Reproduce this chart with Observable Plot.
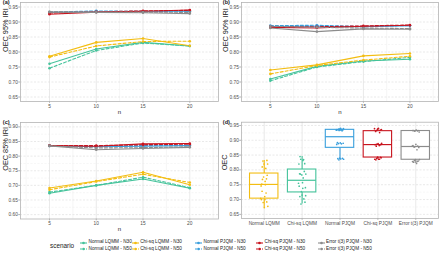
<!DOCTYPE html>
<html><head><meta charset="utf-8">
<script src="https://cdn.jsdelivr.net/npm/d3@7"></script>
<script src="https://cdn.jsdelivr.net/npm/@observablehq/plot@0.6"></script>
<style>
html,body{margin:0;padding:0;background:#fff;}
#root{position:relative;width:440px;height:254px;overflow:hidden;font-family:"Liberation Sans",Arial,sans-serif;background:#fff;}
#root svg{position:absolute;}
.leg{position:absolute;white-space:nowrap;line-height:1;color:#1a1a1a;}
</style></head><body><div id="root"></div>
<script>
// ---------- data ----------
const nValues = [5, 10, 15, 20];
const scenarios = ["Normal LQMM", "Chi-sq LQMM", "Normal PJQM", "Chi-sq PJQM", "Error t(3) PJQM"];
const sampleSizes = ["N30", "N50"];
const scenarioColors = ["#45C39B", "#F3BD12", "#3A9FDC", "#C8141E", "#8C8C8C"];
const boxColors = ["#F3BD12", "#45C39B", "#3A9FDC", "#C8141E", "#8C8C8C"];
const yTicksAB = [0.65, 0.70, 0.75, 0.80, 0.85, 0.90, 0.95];
const yTicksC = [0.60, 0.65, 0.70, 0.75, 0.80, 0.85, 0.90];
const panelTitles = ["OEC 95% IRI", "OEC 90% IRI", "OEC 85% IRI", "OEC"];
const panelTags = ["(a)", "(b)", "(c)", "(d)"];

// Panel (a): OEC 95% IRI
const a_normLQMM_N30 = [0.761, 0.810, 0.832, 0.820];
const a_normLQMM_N50 = [0.746, 0.805, 0.830, 0.820];
const a_chiLQMM_N30  = [0.786, 0.832, 0.845, 0.821];
const a_chiLQMM_N50  = [0.783, 0.820, 0.835, 0.836];
const a_normPJQM_N30 = [0.932, 0.934, 0.936, 0.936];
const a_normPJQM_N50 = [0.933, 0.937, 0.935, 0.936];
const a_chiPJQM_N30  = [0.926, 0.933, 0.936, 0.940];
const a_chiPJQM_N50  = [0.930, 0.934, 0.937, 0.939];
const a_errPJQM_N30  = [0.933, 0.932, 0.931, 0.928];
const a_errPJQM_N50  = [0.934, 0.933, 0.933, 0.932];

// Panel (b): OEC 90% IRI
const b_normLQMM_N30 = [0.710, 0.752, 0.770, 0.776];
const b_normLQMM_N50 = [0.704, 0.750, 0.768, 0.782];
const b_chiLQMM_N30  = [0.740, 0.757, 0.787, 0.795];
const b_chiLQMM_N50  = [0.727, 0.755, 0.773, 0.786];
const b_normPJQM_N30 = [0.885, 0.886, 0.884, 0.888];
const b_normPJQM_N50 = [0.888, 0.889, 0.885, 0.888];
const b_chiPJQM_N30  = [0.882, 0.880, 0.886, 0.889];
const b_chiPJQM_N50  = [0.885, 0.884, 0.887, 0.890];
const b_errPJQM_N30  = [0.880, 0.868, 0.877, 0.876];
const b_errPJQM_N50  = [0.886, 0.882, 0.880, 0.878];

// Panel (c): OEC 85% IRI
const c_normLQMM_N30 = [0.673, 0.700, 0.722, 0.690];
const c_normLQMM_N50 = [0.677, 0.700, 0.728, 0.692];
const c_chiLQMM_N30  = [0.691, 0.715, 0.745, 0.702];
const c_chiLQMM_N50  = [0.685, 0.713, 0.738, 0.710];
const c_normPJQM_N30 = [0.835, 0.832, 0.834, 0.836];
const c_normPJQM_N50 = [0.836, 0.833, 0.836, 0.837];
const c_chiPJQM_N30  = [0.836, 0.834, 0.842, 0.843];
const c_chiPJQM_N50  = [0.836, 0.836, 0.839, 0.841];
const c_errPJQM_N30  = [0.835, 0.822, 0.826, 0.830];
const c_errPJQM_N50  = [0.835, 0.828, 0.829, 0.832];

// Panel (d): pooled OEC values (Normal PJQM read separately from the box)
const d_normPJQM = [0.834, 0.836, 0.837, 0.838, 0.839, 0.840,
                    0.886, 0.888, 0.889, 0.890, 0.891, 0.892,
                    0.932, 0.933, 0.934, 0.934, 0.935, 0.935,
                    0.936, 0.936, 0.937, 0.938, 0.939, 0.940];

// ---------- assembly ----------
const panelA = [[a_normLQMM_N30, a_normLQMM_N50], [a_chiLQMM_N30, a_chiLQMM_N50], [a_normPJQM_N30, a_normPJQM_N50], [a_chiPJQM_N30, a_chiPJQM_N50], [a_errPJQM_N30, a_errPJQM_N50]];
const panelB = [[b_normLQMM_N30, b_normLQMM_N50], [b_chiLQMM_N30, b_chiLQMM_N50], [b_normPJQM_N30, b_normPJQM_N50], [b_chiPJQM_N30, b_chiPJQM_N50], [b_errPJQM_N30, b_errPJQM_N50]];
const panelC = [[c_normLQMM_N30, c_normLQMM_N50], [c_chiLQMM_N30, c_chiLQMM_N50], [c_normPJQM_N30, c_normPJQM_N50], [c_chiPJQM_N30, c_chiPJQM_N50], [c_errPJQM_N30, c_errPJQM_N50]];

function pooled(si) {
  return [panelA, panelB, panelC].flatMap(p => [...p[si][0], ...p[si][1]]);
}
const dValues = [pooled(0), pooled(1), d_normPJQM, pooled(3), pooled(4)];

const root = document.getElementById("root");
const FONT = "Liberation Sans, Arial, sans-serif";
const TXT = "#4d4d4d", TICK = "#b3b3b3", GRID = "#e0e0e0", GRIDMINOR = "#ececec";

function place(svg, left, top) {
  svg.style.position = "absolute";
  svg.style.left = left + "px";
  svg.style.top = top + "px";
  root.appendChild(svg);
}

function commonText(title, tag, ml, titleDx) {
  return [
    Plot.text([title], {text: d => d, frameAnchor: "left", rotate: -90, dx: titleDx, fontSize: 7.3, fill: "#1a1a1a"}),
    Plot.text([tag], {text: d => d, frameAnchor: "top-left", dx: -(ml - 2.3), textAnchor: "start", lineAnchor: "middle", fontSize: 5.6, fontWeight: "bold", fill: "#1a1a1a"})
  ];
}

function linePanel(panel, yDomain, yTicks, title, tag, left, top, m) {
  const rows = [];
  panel.forEach((pair, si) => pair.forEach((vals, zi) => vals.forEach((v, k) => rows.push({n: nValues[k], value: v, si, zi}))));
  const yMinor = yTicks.slice(0, -1).map((t, i) => (t + yTicks[i + 1]) / 2);
  const xMinor = [2.5, 7.5, 12.5, 17.5, 22.5];
  const lines = [], dots = [];
  scenarios.forEach((s, si) => sampleSizes.forEach((z, zi) => {
    const sub = rows.filter(r => r.si === si && r.zi === zi);
    lines.push(Plot.line(sub, {x: "n", y: "value", stroke: scenarioColors[si], strokeWidth: 1.1, strokeDasharray: zi === 1 ? "3,2" : null}));
    dots.push(Plot.dot(sub, {x: "n", y: "value", fill: scenarioColors[si], r: 1.3}));
  }));
  const svg = Plot.plot({
    width: 220, height: 118,
    marginLeft: m.ml, marginRight: m.mr, marginTop: m.mt, marginBottom: m.mb,
    style: {fontFamily: FONT, fontSize: "4.8px", color: TXT, background: "transparent", overflow: "visible"},
    x: {domain: [1.9, 23.07]},
    y: {domain: yDomain},
    marks: [
      Plot.gridX({ticks: xMinor, stroke: GRIDMINOR, strokeOpacity: 1, strokeWidth: 0.5}),
      Plot.gridY({ticks: yMinor, stroke: GRIDMINOR, strokeOpacity: 1, strokeWidth: 0.5, strokeDasharray: "2,1.5"}),
      Plot.gridX({ticks: nValues, stroke: GRID, strokeOpacity: 1, strokeWidth: 0.7}),
      Plot.gridY({ticks: yTicks, stroke: GRID, strokeOpacity: 1, strokeWidth: 0.7, strokeDasharray: "2,1.5"}),
      ...lines,
      ...dots,
      Plot.frame({stroke: TICK, strokeWidth: 0.8}),
      Plot.axisX({ticks: nValues, tickSize: 1.8, tickPadding: 1.2, label: null, fontSize: 4.8, stroke: TICK, fill: TXT}),
      Plot.axisY({ticks: yTicks, tickFormat: d3.format(".2f"), tickSize: 1.8, tickPadding: 0.8, label: null, fontSize: 4.8, stroke: TICK, fill: TXT}),
      Plot.text(["n"], {text: d => d, frameAnchor: "bottom", dy: 12, fontSize: 6, fill: "#1a1a1a"}),
      ...commonText(title, tag, m.ml, m.tdx)
    ]
  });
  place(svg, left, top);
}

linePanel(panelA, [0.635, 0.965], yTicksAB, panelTitles[0], panelTags[0], 0, 0, {ml: 20, mr: 2, mt: 2, mb: 17, tdx: -15});
linePanel(panelB, [0.635, 0.965], yTicksAB, panelTitles[1], panelTags[1], 220, 0, {ml: 21, mr: 2, mt: 2, mb: 17, tdx: -16});
linePanel(panelC, [0.585, 0.915], yTicksC, panelTitles[2], panelTags[2], 0, 118, {ml: 20, mr: 2, mt: 4, mb: 17.5, tdx: -15});

// ---------- panel (d): box plots ----------
(function () {
  const stats = dValues.map((vals, k) => {
    const s = vals.slice().sort(d3.ascending);
    const q1 = d3.quantile(s, 0.25), med = d3.quantile(s, 0.5), q3 = d3.quantile(s, 0.75);
    const iqr = q3 - q1;
    const lo = d3.min(s.filter(v => v >= q1 - 1.5 * iqr));
    const hi = d3.max(s.filter(v => v <= q3 + 1.5 * iqr));
    return {i: k + 1, q1, med, q3, lo, hi, color: boxColors[k]};
  });
  const pts = [];
  dValues.forEach((vals, k) => vals.forEach((v, j) => {
    const jit = (((j + 1) * 0.6180339887 + k * 0.37) % 1 - 0.5) * 0.2;
    pts.push({x: k + 1 + jit, value: v, color: boxColors[k]});
  }));
  const yT = yTicksAB;
  const yMinor = yT.slice(0, -1).map((t, i) => (t + yT[i + 1]) / 2);
  const hw = 0.375;
  const svg = Plot.plot({
    width: 220, height: 118,
    marginLeft: 21, marginRight: 2, marginTop: 3.7, marginBottom: 18,
    style: {fontFamily: FONT, fontSize: "4.8px", color: TXT, background: "transparent", overflow: "visible"},
    x: {domain: [0.4, 5.6]},
    y: {domain: [0.636, 0.961]},
    color: {type: "identity"},
    marks: [
      Plot.gridY({ticks: yMinor, stroke: GRIDMINOR, strokeOpacity: 1, strokeWidth: 0.5, strokeDasharray: "2,1.5"}),
      Plot.gridX({ticks: [1, 2, 3, 4, 5], stroke: GRID, strokeOpacity: 1, strokeWidth: 0.7}),
      Plot.gridY({ticks: yT, stroke: GRID, strokeOpacity: 1, strokeWidth: 0.7, strokeDasharray: "2,1.5"}),
      Plot.ruleX(stats, {x: "i", y1: "q3", y2: "hi", stroke: "color", strokeWidth: 1.1}),
      Plot.ruleX(stats, {x: "i", y1: "lo", y2: "q1", stroke: "color", strokeWidth: 1.1}),
      Plot.rect(stats, {x1: d => d.i - hw, x2: d => d.i + hw, y1: "q1", y2: "q3", fill: "white", stroke: "color", strokeWidth: 1.1}),
      Plot.ruleY(stats, {y: "med", x1: d => d.i - hw, x2: d => d.i + hw, stroke: "color", strokeWidth: 1.2}),
      Plot.dot(pts, {x: "x", y: "value", fill: "color", r: 0.85}),
      Plot.frame({stroke: TICK, strokeWidth: 0.8}),
      Plot.axisX({ticks: [1, 2, 3, 4, 5], tickFormat: i => scenarios[i - 1], tickSize: 1.8, tickPadding: 1.2, label: null, fontSize: 4.8, stroke: TICK, fill: TXT}),
      Plot.axisY({ticks: yT, tickFormat: d3.format(".2f"), tickSize: 1.8, tickPadding: 0.8, label: null, fontSize: 4.8, stroke: TICK, fill: TXT}),
      ...commonText(panelTitles[3], panelTags[3], 21, -16.5)
    ]
  });
  place(svg, 220, 118);
})();

// ---------- legend ----------
(function () {
  const title = document.createElement("div");
  title.className = "leg";
  title.textContent = "scenario";
  title.style.left = "50px";
  title.style.top = (246 - 3.3) + "px";
  title.style.fontSize = "6.4px";
  root.appendChild(title);
  const keyX = [80, 131.7, 195, 256, 317.5];
  const rowY = [242.6, 249.4];
  scenarios.forEach((s, si) => sampleSizes.forEach((z, zi) => {
    const ns = "http://www.w3.org/2000/svg";
    const key = document.createElementNS(ns, "svg");
    key.setAttribute("width", 7);
    key.setAttribute("height", 6);
    key.style.position = "absolute";
    key.style.left = keyX[si] + "px";
    key.style.top = (rowY[zi] - 3) + "px";
    const ln = document.createElementNS(ns, "line");
    ln.setAttribute("x1", 0); ln.setAttribute("x2", 7);
    ln.setAttribute("y1", 3); ln.setAttribute("y2", 3);
    ln.setAttribute("stroke", scenarioColors[si]);
    ln.setAttribute("stroke-width", 1.1);
    if (zi === 1) ln.setAttribute("stroke-dasharray", "2,1");
    const c = document.createElementNS(ns, "circle");
    c.setAttribute("cx", 3.5); c.setAttribute("cy", 3); c.setAttribute("r", 1.3);
    c.setAttribute("fill", scenarioColors[si]);
    key.appendChild(ln); key.appendChild(c);
    root.appendChild(key);
    const t = document.createElement("div");
    t.className = "leg";
    t.textContent = s + " - " + z;
    t.style.fontSize = "4.7px";
    t.style.left = (keyX[si] + 8.5) + "px";
    t.style.top = (rowY[zi] - 2.4) + "px";
    root.appendChild(t);
  }));
})();
</script></body></html>
